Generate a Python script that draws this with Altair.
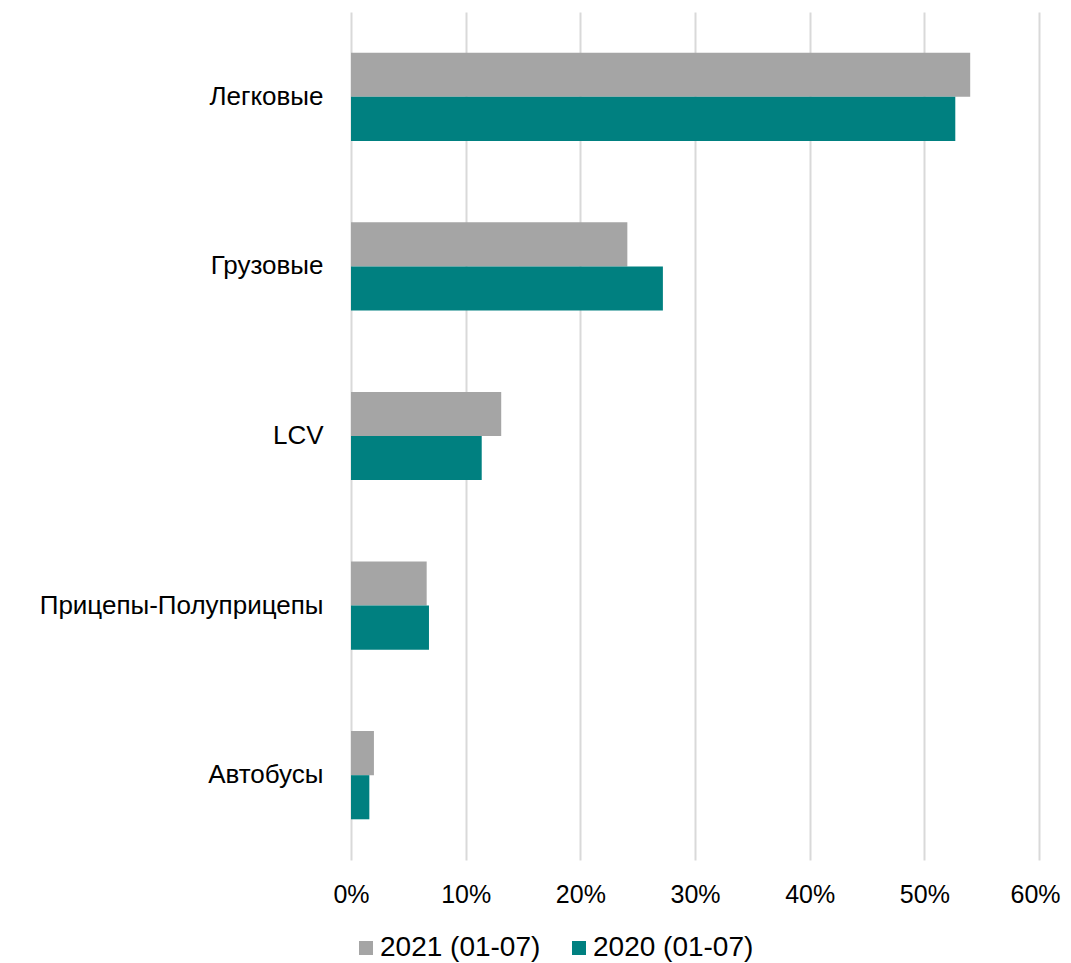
import altair as alt
import pandas as pd

categories = ["Легковые", "Грузовые", "LCV", "Прицепы-Полуприцепы", "Автобусы"]
series = ["2021 (01-07)", "2020 (01-07)"]
values_2021 = [0.540, 0.241, 0.131, 0.066, 0.020]
values_2020 = [0.527, 0.272, 0.114, 0.068, 0.016]
colors = ["#A5A5A5", "#008080"]
x_ticks = [0, 0.1, 0.2, 0.3, 0.4, 0.5, 0.6]

rows = []
for c, v in zip(categories, values_2021):
    rows.append({"cat": c, "series": series[0], "value": v})
for c, v in zip(categories, values_2020):
    rows.append({"cat": c, "series": series[1], "value": v})
df = pd.DataFrame(rows)

FONT = "Liberation Sans"

chart = alt.Chart(df).mark_bar().encode(
    x=alt.X("value:Q",
            scale=alt.Scale(domain=[0, 0.6], nice=False, zero=True),
            axis=alt.Axis(values=x_ticks, format=".0%", title=None, domain=False,
                          ticks=False, labelPadding=22, labelFontSize=25,
                          labelFont=FONT, labelColor="#000000", labelFlush=False,
                          labelOffset={"condition": {"test": "datum.value >= 0.59", "value": -4},
                                       "value": 0},
                          grid=True, gridColor="#D9D9D9", gridWidth=2)),
    y=alt.Y("cat:N", sort=categories,
            scale=alt.Scale(paddingInner=0.48, paddingOuter=0.24),
            axis=alt.Axis(title=None, domain=False, ticks=False, labelPadding=28,
                          labelFontSize=26, labelFont=FONT, labelColor="#000000",
                          labelLimit=400)),
    yOffset=alt.YOffset("series:N", sort=series),
    color=alt.Color("series:N", sort=series,
                    scale=alt.Scale(domain=series, range=colors),
                    legend=alt.Legend(title=None, orient="none", direction="horizontal",
                                      legendX=1, legendY=922,
                                      symbolType="square", symbolSize=196,
                                      symbolStrokeWidth=0, labelFontSize=28,
                                      labelFont=FONT, labelColor="#000000",
                                      labelLimit=300,
                                      columnPadding=24, labelOffset=0)),
).properties(
    width=688, height=848,
    autosize=alt.AutoSizeParams(type="none"),
    padding={"left": 343, "top": 4, "right": 24, "bottom": 112},
).configure_view(stroke=None)

chart.save("out.html", embed_options={"renderer": "svg", "actions": False})
